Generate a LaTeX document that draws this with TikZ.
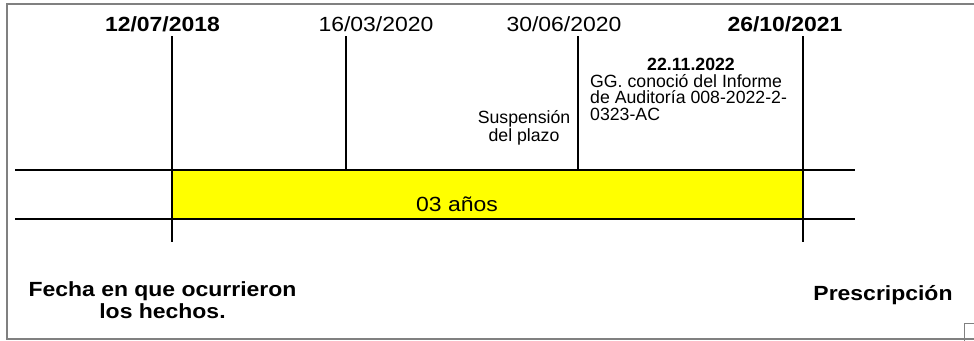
\documentclass[tikz,border=0pt]{standalone}
\usepackage{fontspec}
\setmainfont{Liberation Sans}
\usepackage{tikz}
\usetikzlibrary{positioning}
\definecolor{bandyellow}{RGB}{255, 255, 0}
\definecolor{framegray}{RGB}{128, 128, 128}

\begin{document}
\begin{tikzpicture}[x=1pt, y=-1pt,
  tick/.style={line width=1.3pt},
  bigtext/.style={anchor=base, inner sep=0pt, font=\fontsize{20.5}{21.5}\selectfont, xscale=1.12, align=center},
  boldtext/.style={bigtext, font=\fontsize{20.5}{21.5}\selectfont\bfseries},
  note/.style={anchor=base, inner sep=0pt, font=\fontsize{17.7}{16.4}\selectfont}
]
  \useasboundingbox (0,0) rectangle (974,340);

  % Frame
  \draw[framegray, line width=1.5pt] (7,4) rectangle (995,339);
  \draw[framegray, line width=1pt] (964,323) rectangle (990,350);

  % Band
  \fill[bandyellow] (172,170) rectangle (803,219);
  \coordinate (left top) at (15,170);
  \coordinate (right top) at (855,170);
  \coordinate (left bot) at (15,219);
  \coordinate (right bot) at (855,219);
  \draw[tick] (left top) -- (right top);
  \draw[tick] (left bot) -- (right bot);

  % Ticks
  \foreach \n/\x/\b in {a/172/242, b/346/170, c/578/170, d/803/242} {
    \coordinate (\n top) at (\x, 36);
    \coordinate (\n bot) at (\x, \b);
    \draw[tick] (\n top) -- (\n bot);
  }

  % Dates
  \node[boldtext] (date a) at (162.5, 31.7) {12/07/2018};
  \node[bigtext] (date b) at (376, 31.7) {16/03/2020};
  \node[bigtext] (date c) at (564, 31.7) {30/06/2020};
  \node[boldtext] (date d) at (785, 31.7) {26/10/2021};

  % Notes (base = last line)
  \node[note, font=\fontsize{17.7}{16.4}\selectfont\bfseries] (inf date) at (691, 70) {22.11.2022};
  \node[note, anchor=base west, align=left] (inf) at (590, 120) {GG. conoció del Informe\\de Auditoría 008-2022-2-\\0323-AC};
  \node[note, align=center] (susp) at (524, 141) {Suspensión\\del plazo};

  % Labels
  \node[bigtext] (period) at (457, 211.7) {03 años};
  \node[boldtext] (start) at (162.5, 318) {Fecha en que ocurrieron\\los hechos.};
  \node[boldtext] (presc) at (883, 300.7) {Prescripción};
\end{tikzpicture}
\end{document}
